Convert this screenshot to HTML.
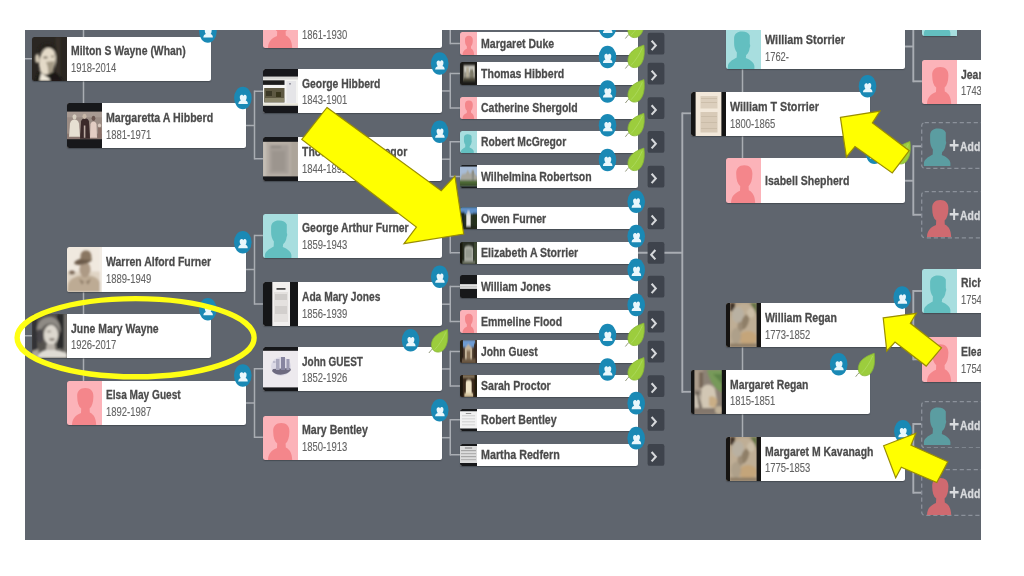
<!DOCTYPE html>
<html lang="en">
<head>
<meta charset="utf-8">
<title>Family tree</title>
<style>
html,body{margin:0;padding:0;background:#fff;}
body{width:1024px;height:576px;overflow:hidden;position:relative;font-family:"Liberation Sans",sans-serif;}
#tree{position:absolute;left:25px;top:30px;width:956px;height:510px;background:#5f656e;overflow:hidden;}
#inner{position:absolute;left:-25px;top:-30px;width:1024px;height:576px;}
.card{position:absolute;background:linear-gradient(90deg,rgba(255,255,255,0) 8px,#fff 8px);border-radius:2.5px;box-shadow:0 1px 1px rgba(40,44,52,.45);}
.pw{position:absolute;left:0;top:0;overflow:hidden;border-radius:2.5px 0 0 2.5px;}
.ph{position:absolute;left:0;top:0;display:block;}
.t{position:absolute;white-space:nowrap;line-height:16px;transform-origin:0 50%;-webkit-text-stroke:0.12px currentColor;}
.t.b{-webkit-text-stroke:0.3px currentColor;}
.add{position:absolute;box-sizing:border-box;border-radius:3px;}
.plus{position:absolute;color:#d9dbde;font-weight:bold;font-size:22px;line-height:26px;transform:scaleX(.8);transform-origin:0 50%;}
#stage{position:absolute;left:0;top:0;width:1024px;height:576px;overflow:hidden;background:#fff;filter:blur(0.5px);}
svg.ov{position:absolute;left:0;top:0;width:1024px;height:576px;overflow:visible;}
#lines path{stroke:#a9adb3;fill:none;}
</style>
</head>
<body>
<div id="stage">
<svg width="0" height="0" style="position:absolute"><defs><filter id="b045" x="-20%" y="-20%" width="140%" height="140%"><feGaussianBlur stdDeviation="0.45"/></filter><filter id="b06" x="-20%" y="-20%" width="140%" height="140%"><feGaussianBlur stdDeviation="0.6"/></filter><filter id="b07" x="-20%" y="-20%" width="140%" height="140%"><feGaussianBlur stdDeviation="0.7"/></filter><filter id="b08" x="-20%" y="-20%" width="140%" height="140%"><feGaussianBlur stdDeviation="0.8"/></filter><filter id="b09" x="-20%" y="-20%" width="140%" height="140%"><feGaussianBlur stdDeviation="0.9"/></filter><filter id="b10" x="-20%" y="-20%" width="140%" height="140%"><feGaussianBlur stdDeviation="1.0"/></filter><filter id="b11" x="-20%" y="-20%" width="140%" height="140%"><feGaussianBlur stdDeviation="1.1"/></filter><filter id="b16" x="-20%" y="-20%" width="140%" height="140%"><feGaussianBlur stdDeviation="1.6"/></filter></defs></svg>
<div id="tree"><div id="inner">
<svg class="ov" id="lines" viewBox="0 0 1024 576"><path d="M83.5,30 V103.5" stroke-width="1.5"/><path d="M83.5,291 V381" stroke-width="1.5"/><path d="M25,58.75 H32" stroke-width="1.5"/><path d="M25,335.75 H32" stroke-width="1.5"/><path d="M245,125.5 H254.5" stroke-width="1.5"/><path d="M254.5,90.5 V159.5" stroke-width="1.5"/><path d="M254.5,91.25 H263.5" stroke-width="1.5"/><path d="M254.5,158.75 H263.5" stroke-width="1.5"/><path d="M245,269.5 H254.5" stroke-width="1.5"/><path d="M254.5,234.75 V304.75" stroke-width="1.5"/><path d="M254.5,235.5 H263.5" stroke-width="1.5"/><path d="M254.5,304 H263.5" stroke-width="1.5"/><path d="M245,403 H254.5" stroke-width="1.5"/><path d="M254.5,368.0 V438.0" stroke-width="1.5"/><path d="M254.5,368.75 H263.5" stroke-width="1.5"/><path d="M254.5,437.25 H263.5" stroke-width="1.5"/><path d="M442,25.9 H450.25" stroke-width="1.5"/><path d="M450.25,25.25 V44.25" stroke-width="1.5"/><path d="M450.25,26 H460" stroke-width="1.5"/><path d="M450.25,43.5 H460" stroke-width="1.5"/><path d="M442,90.95 H450.25" stroke-width="1.5"/><path d="M450.25,72.75 V108.75" stroke-width="1.5"/><path d="M450.25,73.5 H460" stroke-width="1.5"/><path d="M450.25,108 H460" stroke-width="1.5"/><path d="M442,159.2 H450.25" stroke-width="1.5"/><path d="M450.25,141.0 V177.25" stroke-width="1.5"/><path d="M450.25,141.75 H460" stroke-width="1.5"/><path d="M450.25,176.5 H460" stroke-width="1.5"/><path d="M442,235.7 H450.25" stroke-width="1.5"/><path d="M450.25,217.5 V253.5" stroke-width="1.5"/><path d="M450.25,218.25 H460" stroke-width="1.5"/><path d="M450.25,252.75 H460" stroke-width="1.5"/><path d="M442,304.2 H450.25" stroke-width="1.5"/><path d="M450.25,285.75 V322.25" stroke-width="1.5"/><path d="M450.25,286.5 H460" stroke-width="1.5"/><path d="M450.25,321.5 H460" stroke-width="1.5"/><path d="M442,368.95 H450.25" stroke-width="1.5"/><path d="M450.25,350.75 V386.75" stroke-width="1.5"/><path d="M450.25,351.5 H460" stroke-width="1.5"/><path d="M450.25,386 H460" stroke-width="1.5"/><path d="M442,437.7 H450.25" stroke-width="1.5"/><path d="M450.25,419.0 V455.5" stroke-width="1.5"/><path d="M450.25,419.75 H460" stroke-width="1.5"/><path d="M450.25,454.75 H460" stroke-width="1.5"/><path d="M638,252.75 H683" stroke-width="1.8"/><path d="M682.3,112.4 V392.7" stroke-width="1.9"/><path d="M682.3,113.3 H692" stroke-width="1.8"/><path d="M682.3,391.8 H692" stroke-width="1.8"/><path d="M742.5,69 V92.5" stroke-width="1.5"/><path d="M742.5,136 V159" stroke-width="1.5"/><path d="M742.5,347 V370.5" stroke-width="1.5"/><path d="M742.5,414 V437.5" stroke-width="1.5"/><path d="M905,46.5 H913.3" stroke-width="1.9"/><path d="M913.3,11.05 V82.25" stroke-width="1.9"/><path d="M913.3,12 H922.5" stroke-width="1.9"/><path d="M913.3,81.3 H922.5" stroke-width="1.9"/><path d="M905,180.75 H913.3" stroke-width="1.9"/><path d="M913.3,145.3 V215.7" stroke-width="1.9"/><path d="M913.3,146.25 H921" stroke-width="1.9"/><path d="M913.3,214.75 H921" stroke-width="1.9"/><path d="M905,325 H913.3" stroke-width="1.9"/><path d="M913.3,290.05 V360.25" stroke-width="1.9"/><path d="M913.3,291 H922.5" stroke-width="1.9"/><path d="M913.3,359.3 H922.5" stroke-width="1.9"/><path d="M905,458.5 H913.3" stroke-width="1.9"/><path d="M913.3,423.05 V493.65" stroke-width="1.9"/><path d="M913.3,424 H921" stroke-width="1.9"/><path d="M913.3,492.7 H921" stroke-width="1.9"/></svg>
<div class="card" style="left:32px;top:37px;width:179px;height:44px;background:linear-gradient(90deg,rgba(255,255,255,0) 34px,#fff 34px)"><div class="pw" style="width:35px;height:44px"><svg class="ph" width="35" height="44" viewBox="0 0 35 44" preserveAspectRatio="none"><rect width="35" height="44" fill="#2a2622"/><g filter="url(#b08)"><rect x="24" y="0" width="4" height="44" fill="#37322c"/><path d="M3,44 L7,33 L24,35 L30,44 Z" fill="#1c1a18"/><ellipse cx="15.4" cy="24" rx="8.2" ry="14" fill="#e4dac8" transform="rotate(10 15.4 24)"/><ellipse cx="5.2" cy="21.5" rx="2.1" ry="4.6" fill="#d5cab6"/><path d="M6,13 C8,5 20,4 25,11 L24,16 C19,9 12,9 8,17 Z" fill="#25211d"/><path d="M14,25 C16,29 16.5,33 16,37 L21,35 C21.5,31 22.5,28 22.5,24 Z" fill="#a39985"/><ellipse cx="13.5" cy="20.5" rx="2.4" ry="1.1" fill="#6a6254"/><ellipse cx="20.5" cy="19.5" rx="1.6" ry="0.9" fill="#8a806e"/><path d="M7.5,44 L9,36 L17.5,41.5 L18,44 Z" fill="#f0e9da"/><path d="M18.5,44 L19.5,40 L25,36 L31,44 Z" fill="#1a1816"/></g></svg></div><span class="t  b" style="left:38.90px;top:6.47px;font-size:13.5px;font-weight:bold;color:#4b4b4b;transform:scaleX(0.7708)">Milton S Wayne (Whan)</span><span class="t " style="left:38.90px;top:23.24px;font-size:12.0px;font-weight:normal;color:#646464;transform:scaleX(0.7876)">1918-2014</span></div>
<div class="card" style="left:32px;top:314px;width:179px;height:44px;background:linear-gradient(90deg,rgba(255,255,255,0) 34px,#fff 34px)"><div class="pw" style="width:35px;height:44px"><svg class="ph" width="35" height="44" viewBox="0 0 35 44" preserveAspectRatio="none"><rect width="35" height="44" fill="#55524e"/><g filter="url(#b08)"><rect x="0" y="0" width="5" height="44" fill="#333235"/><rect x="25" y="0" width="7" height="34" fill="#2c2b2a"/><rect x="32" y="0" width="3" height="44" fill="#76736e"/><ellipse cx="16.5" cy="15.5" rx="12" ry="13" fill="#5c5955"/><path d="M5,15 C6,5 14,2 20,3 C26,4.5 29,11 28.5,19 L25.5,13 C21,7.5 11,8 8,19 Z" fill="#8f8b85"/><ellipse cx="8" cy="22" rx="3.2" ry="7" fill="#46444a"/><ellipse cx="19" cy="21" rx="7.2" ry="10.2" fill="#dcd7ce"/><ellipse cx="20" cy="25.5" rx="3" ry="1.4" fill="#8d857d"/><ellipse cx="17" cy="17.5" rx="2.4" ry="0.9" fill="#9b958c"/><path d="M14.5,30 L23,30 L24,37 L13.5,37 Z" fill="#b7b1a8"/><path d="M4,44 C6,39 10,36.5 14,36 L24,36 C29,36.5 33,38 35,40 L35,44 Z" fill="#dfdcd4"/><path d="M0,44 L0,37 L7,35 L6,44 Z" fill="#a8a39b"/></g></svg></div><span class="t  b" style="left:38.90px;top:6.72px;font-size:13.5px;font-weight:bold;color:#4b4b4b;transform:scaleX(0.7719)">June Mary Wayne</span><span class="t " style="left:38.90px;top:23.49px;font-size:12.0px;font-weight:normal;color:#646464;transform:scaleX(0.7876)">1926-2017</span></div>
<div class="card" style="left:67px;top:103px;width:179px;height:45px;background:linear-gradient(90deg,rgba(255,255,255,0) 34px,#fff 34px)"><div class="pw" style="width:35px;height:45px"><svg class="ph" width="35" height="45" viewBox="0 0 35 44" preserveAspectRatio="none"><rect width="35" height="44" fill="#9b8c84"/><g filter="url(#b06)"><rect x="0" y="8" width="35" height="6" fill="#a89a92"/><rect x="0" y="30" width="35" height="6" fill="#8a7770"/><path d="M2,33 L3,20 C4,15 11,15 12,20 L13,33 Z" fill="#e6e0d2"/><ellipse cx="7.5" cy="13.5" rx="2" ry="2.6" fill="#d8cfc0"/><path d="M13,35 L14,18 C15,14 21,14 22,18 L23,35 Z" fill="#3a2a2c"/><ellipse cx="17.5" cy="13" rx="2" ry="2.6" fill="#c8b8a8"/><rect x="16.8" y="22" width="1.6" height="12" fill="#b9a9a0"/><path d="M23,34 L23.5,21 C24,17 29,17 29.5,21 L30,34 Z" fill="#e3cdc3"/><ellipse cx="26.5" cy="15" rx="1.9" ry="2.5" fill="#6a5550"/><ellipse cx="32.5" cy="22" rx="1.6" ry="2" fill="#d9c9bf"/><rect x="31" y="24" width="3.5" height="10" fill="#8a7068"/></g><rect x="0" y="0" width="35" height="8.4" fill="#17181b"/><rect x="0" y="35.4" width="35" height="8.6" fill="#17181b"/></svg></div><span class="t  b" style="left:38.65px;top:7.22px;font-size:13.5px;font-weight:bold;color:#4b4b4b;transform:scaleX(0.7862)">Margaretta A Hibberd</span><span class="t " style="left:38.65px;top:23.99px;font-size:12.0px;font-weight:normal;color:#646464;transform:scaleX(0.7876)">1881-1971</span></div>
<div class="card" style="left:67px;top:247px;width:179px;height:45px;background:linear-gradient(90deg,rgba(255,255,255,0) 34px,#fff 34px)"><div class="pw" style="width:35px;height:45px"><svg class="ph" width="35" height="45" viewBox="0 0 35 44" preserveAspectRatio="none"><rect width="35" height="44" fill="#f0e9df"/><g filter="url(#b08)"><rect x="0" y="24" width="35" height="20" fill="#e0d4c4"/><path d="M0,44 L1,36 C3,31 8,29 12,28 L24,28 C29,29 33,32 34,38 L35,44 Z" fill="#bdab94"/><ellipse cx="18" cy="22" rx="5.6" ry="7.5" fill="#ad9a85"/><path d="M12,31 L17,34 L15,37 Z M24,31 L19,34 L21,37 Z" fill="#8d7a66"/><ellipse cx="16" cy="14" rx="9" ry="3" fill="#6d5c4c" transform="rotate(-12 16 14)"/><path d="M13.5,12 C13,6 15,3.5 19,3.5 C23,3.5 24.5,6 24.5,11 L24,13 Z" fill="#8a7762"/><ellipse cx="5" cy="25" rx="3" ry="2" fill="#7a6856"/><rect x="33" y="0" width="2" height="44" fill="#f4efe8"/></g></svg></div><span class="t  b" style="left:38.65px;top:7.22px;font-size:13.5px;font-weight:bold;color:#4b4b4b;transform:scaleX(0.7759)">Warren Alford Furner</span><span class="t " style="left:38.65px;top:23.99px;font-size:12.0px;font-weight:normal;color:#646464;transform:scaleX(0.7876)">1889-1949</span></div>
<div class="card" style="left:67px;top:381px;width:179px;height:44px;background:linear-gradient(90deg,rgba(255,255,255,0) 34px,#fff 34px)"><div class="pw" style="width:35px;height:44px"><svg class="ph" width="35" height="44" viewBox="0 0 35 44" preserveAspectRatio="none"><rect width="35" height="44" fill="#fcb3b9"/><path d="M5,44 C5.2,38 8,34.5 14,32 L14.2,27.5 C11.5,25.5 10.3,21.5 10.2,15.5 C10,10 13,7 18.3,7 C23.5,7 26.5,10 26.4,15.5 C26.3,21.5 25,25.5 22.6,27.5 L22.8,31.5 C27,33.5 29,37.5 29.2,44 Z" fill="#f4868b"/></svg></div><span class="t  b" style="left:38.65px;top:6.47px;font-size:13.5px;font-weight:bold;color:#4b4b4b;transform:scaleX(0.748)">Elsa May Guest</span><span class="t " style="left:38.65px;top:23.24px;font-size:12.0px;font-weight:normal;color:#646464;transform:scaleX(0.7876)">1892-1987</span></div>
<div class="card" style="left:263px;top:4px;width:179px;height:44px;background:linear-gradient(90deg,rgba(255,255,255,0) 34px,#fff 34px)"><div class="pw" style="width:35px;height:44px"><svg class="ph" width="35" height="44" viewBox="0 0 35 44" preserveAspectRatio="none"><rect width="35" height="44" fill="#fcb3b9"/><path d="M5,44 C5.2,38 8,34.5 14,32 L14.2,27.5 C11.5,25.5 10.3,21.5 10.2,15.5 C10,10 13,7 18.3,7 C23.5,7 26.5,10 26.4,15.5 C26.3,21.5 25,25.5 22.6,27.5 L22.8,31.5 C27,33.5 29,37.5 29.2,44 Z" fill="#f4868b"/></svg></div><span class="t  b" style="left:38.90px;top:6.67px;font-size:13.5px;font-weight:bold;color:#4b4b4b;transform:scaleX(0.772)">&nbsp;</span><span class="t " style="left:38.90px;top:23.44px;font-size:12.0px;font-weight:normal;color:#646464;transform:scaleX(0.7876)">1861-1930</span></div>
<div class="card" style="left:263px;top:69px;width:179px;height:44px;background:linear-gradient(90deg,rgba(255,255,255,0) 34px,#fff 34px)"><div class="pw" style="width:35px;height:44px"><svg class="ph" width="35" height="44" viewBox="0 0 35 44" preserveAspectRatio="none"><rect width="35" height="44" fill="#f4f4f2"/><g filter="url(#b045)"><rect x="0" y="8" width="35" height="2.5" fill="#d8d8d6"/><rect x="0" y="11.3" width="21.5" height="4.6" fill="#1d1d1f"/><rect x="1.2" y="19" width="20.3" height="14.5" fill="#5d5942"/><rect x="3" y="22" width="6" height="5" fill="#3b3828"/><rect x="13" y="23" width="5" height="5" fill="#37341f"/><rect x="2" y="29" width="19" height="4" fill="#8a866c"/><rect x="23.5" y="12" width="9.5" height="22" fill="#e5e5e8"/><rect x="26" y="14" width="2" height="1.6" fill="#9a9aa5"/><rect x="0" y="34.5" width="35" height="2" fill="#e8e6d8"/></g><rect x="0" y="0" width="35" height="7.6" fill="#16171b"/><rect x="0" y="36.8" width="35" height="7.2" fill="#16171b"/></svg></div><span class="t  b" style="left:38.90px;top:6.72px;font-size:13.5px;font-weight:bold;color:#4b4b4b;transform:scaleX(0.7685)">George Hibberd</span><span class="t " style="left:38.90px;top:23.49px;font-size:12.0px;font-weight:normal;color:#646464;transform:scaleX(0.7876)">1843-1901</span></div>
<div class="card" style="left:263px;top:137px;width:179px;height:44px;background:linear-gradient(90deg,rgba(255,255,255,0) 34px,#fff 34px)"><div class="pw" style="width:35px;height:44px"><svg class="ph" width="35" height="44" viewBox="0 0 35 44" preserveAspectRatio="none"><rect width="35" height="44" fill="#b6aea5"/><g filter="url(#b09)"><rect x="0" y="4" width="3" height="37" fill="#c6c0b8"/><rect x="6.5" y="8" width="19" height="28.5" fill="#a59e97"/><rect x="8" y="9" width="10" height="2" fill="#8f8983"/><rect x="9" y="14" width="13" height="20" fill="#9c958e"/><rect x="28" y="4" width="7" height="37" fill="#aca49a"/></g><rect x="0" y="0" width="35" height="4.8" fill="#16171a"/><rect x="0" y="39.4" width="35" height="4.6" fill="#16171a"/></svg></div><span class="t  b" style="left:38.90px;top:6.97px;font-size:13.5px;font-weight:bold;color:#4b4b4b;transform:scaleX(0.7749)">Thomas W McGregor</span><span class="t " style="left:38.90px;top:23.74px;font-size:12.0px;font-weight:normal;color:#646464;transform:scaleX(0.7876)">1844-1892</span></div>
<div class="card" style="left:263px;top:214px;width:179px;height:44px;background:linear-gradient(90deg,rgba(255,255,255,0) 34px,#fff 34px)"><div class="pw" style="width:35px;height:44px"><svg class="ph" width="35" height="44" viewBox="0 0 35 44" preserveAspectRatio="none"><rect width="35" height="44" fill="#a8dedf"/><path d="M1.9,44 L1.9,41 C2.2,37.5 6,35 10.7,32.5 L10.9,27.5 C9,25 8.1,22 8.1,18 L8.1,13 C8.3,8.8 11.5,6.6 15.5,6.6 C19.5,6.4 22.5,7.8 23.8,10.4 L23.8,19 C24.5,20 24.3,22 23.6,23 C23.3,26 22.3,28.5 20.2,30 L19.8,33 C24.5,35 28,37.5 28.4,41 L28.4,44 Z" fill="#63bfc0"/></svg></div><span class="t  b" style="left:38.90px;top:6.47px;font-size:13.5px;font-weight:bold;color:#4b4b4b;transform:scaleX(0.7713)">George Arthur Furner</span><span class="t " style="left:38.90px;top:23.24px;font-size:12.0px;font-weight:normal;color:#646464;transform:scaleX(0.7876)">1859-1943</span></div>
<div class="card" style="left:263px;top:282px;width:179px;height:44px;background:linear-gradient(90deg,rgba(255,255,255,0) 34px,#fff 34px)"><div class="pw" style="width:35px;height:44px"><svg class="ph" width="35" height="44" viewBox="0 0 35 44" preserveAspectRatio="none"><rect width="35" height="44" fill="#f2f0ef"/><g filter="url(#b06)"><rect x="13.5" y="6" width="9" height="1.8" fill="#4a4a4a"/><rect x="11" y="10" width="14" height="30" fill="#e4e1df"/><rect x="12" y="12" width="12" height="6" fill="#cfccca"/><rect x="12" y="24" width="12" height="8" fill="#d2cfcd"/></g><rect x="0" y="0" width="9.3" height="44" fill="#151618"/><rect x="27" y="0" width="8" height="44" fill="#151618"/></svg></div><span class="t  b" style="left:38.90px;top:6.97px;font-size:13.5px;font-weight:bold;color:#4b4b4b;transform:scaleX(0.7571)">Ada Mary Jones</span><span class="t " style="left:38.90px;top:23.74px;font-size:12.0px;font-weight:normal;color:#646464;transform:scaleX(0.7876)">1856-1939</span></div>
<div class="card" style="left:263px;top:347px;width:179px;height:44px;background:linear-gradient(90deg,rgba(255,255,255,0) 34px,#fff 34px)"><div class="pw" style="width:35px;height:44px"><svg class="ph" width="35" height="44" viewBox="0 0 35 44" preserveAspectRatio="none"><rect width="35" height="44" fill="#edeaee"/><g filter="url(#b07)"><ellipse cx="18" cy="19.5" rx="10" ry="9.5" fill="#dcdae6"/><path d="M9,24 C12,29 24,29 28,23 L27,21 L10,22 Z" fill="#6d6b7f"/><rect x="13" y="12" width="3.5" height="11" fill="#a9a8bd"/><rect x="18" y="10" width="4" height="13" fill="#8785a0"/><rect x="23.5" y="12" width="3" height="11" fill="#9c9ab2"/><rect x="10" y="14" width="2.5" height="2" fill="#bdbccd"/><rect x="5" y="2.5" width="3" height="0.6" fill="#e9b9c0"/></g><rect x="0" y="0" width="35" height="3.8" fill="#16171a"/><rect x="0" y="40.4" width="35" height="3.6" fill="#16171a"/></svg></div><span class="t  b" style="left:38.90px;top:6.72px;font-size:13.5px;font-weight:bold;color:#4b4b4b;transform:scaleX(0.738)">John GUEST</span><span class="t " style="left:38.90px;top:23.49px;font-size:12.0px;font-weight:normal;color:#646464;transform:scaleX(0.7876)">1852-1926</span></div>
<div class="card" style="left:263px;top:416px;width:179px;height:44px;background:linear-gradient(90deg,rgba(255,255,255,0) 34px,#fff 34px)"><div class="pw" style="width:35px;height:44px"><svg class="ph" width="35" height="44" viewBox="0 0 35 44" preserveAspectRatio="none"><rect width="35" height="44" fill="#fcb3b9"/><path d="M5,44 C5.2,38 8,34.5 14,32 L14.2,27.5 C11.5,25.5 10.3,21.5 10.2,15.5 C10,10 13,7 18.3,7 C23.5,7 26.5,10 26.4,15.5 C26.3,21.5 25,25.5 22.6,27.5 L22.8,31.5 C27,33.5 29,37.5 29.2,44 Z" fill="#f4868b"/></svg></div><span class="t  b" style="left:38.90px;top:6.47px;font-size:13.5px;font-weight:bold;color:#4b4b4b;transform:scaleX(0.7841)">Mary Bentley</span><span class="t " style="left:38.90px;top:23.24px;font-size:12.0px;font-weight:normal;color:#646464;transform:scaleX(0.7876)">1850-1913</span></div>
<div class="card" style="left:460px;top:32px;width:178px;height:23px;background:linear-gradient(90deg,rgba(255,255,255,0) 16px,#fff 16px)"><div class="pw" style="width:17px;height:23px"><svg class="ph" width="17" height="23" viewBox="0 0 35 44" preserveAspectRatio="none"><rect width="35" height="44" fill="#fcb3b9"/><path d="M5,44 C5.2,38 8,34.5 14,32 L14.2,27.5 C11.5,25.5 10.3,21.5 10.2,15.5 C10,10 13,7 18.3,7 C23.5,7 26.5,10 26.4,15.5 C26.3,21.5 25,25.5 22.6,27.5 L22.8,31.5 C27,33.5 29,37.5 29.2,44 Z" fill="#f4868b"/></svg></div><span class="t  b" style="left:21.35px;top:3.92px;font-size:13.5px;font-weight:bold;color:#4b4b4b;transform:scaleX(0.7804)">Margaret Duke</span></div>
<div class="card" style="left:460px;top:62px;width:178px;height:23px;background:linear-gradient(90deg,rgba(255,255,255,0) 16px,#fff 16px)"><div class="pw" style="width:17px;height:23px"><svg class="ph" width="17" height="23" viewBox="0 0 35 44" preserveAspectRatio="none"><rect width="35" height="44" fill="#1b1a17"/><g filter="url(#b16)"><rect x="7" y="6" width="24" height="30" fill="#9a978a"/><rect x="9" y="7" width="20" height="12" fill="#c9c8c0"/><rect x="13" y="10" width="5" height="22" fill="#b5ae98"/><rect x="21" y="14" width="6" height="18" fill="#7d7a68"/><rect x="7" y="30" width="24" height="7" fill="#4d4a3a"/></g></svg></div><span class="t  b" style="left:21.35px;top:3.92px;font-size:13.5px;font-weight:bold;color:#4b4b4b;transform:scaleX(0.7811)">Thomas Hibberd</span></div>
<div class="card" style="left:460px;top:97px;width:178px;height:22px;background:linear-gradient(90deg,rgba(255,255,255,0) 16px,#fff 16px)"><div class="pw" style="width:17px;height:22px"><svg class="ph" width="17" height="22" viewBox="0 0 35 44" preserveAspectRatio="none"><rect width="35" height="44" fill="#fcb3b9"/><path d="M5,44 C5.2,38 8,34.5 14,32 L14.2,27.5 C11.5,25.5 10.3,21.5 10.2,15.5 C10,10 13,7 18.3,7 C23.5,7 26.5,10 26.4,15.5 C26.3,21.5 25,25.5 22.6,27.5 L22.8,31.5 C27,33.5 29,37.5 29.2,44 Z" fill="#f4868b"/></svg></div><span class="t  b" style="left:21.35px;top:3.42px;font-size:13.5px;font-weight:bold;color:#4b4b4b;transform:scaleX(0.7765)">Catherine Shergold</span></div>
<div class="card" style="left:460px;top:131px;width:178px;height:22px;background:linear-gradient(90deg,rgba(255,255,255,0) 16px,#fff 16px)"><div class="pw" style="width:17px;height:22px"><svg class="ph" width="17" height="22" viewBox="0 0 35 44" preserveAspectRatio="none"><rect width="35" height="44" fill="#a8dedf"/><path d="M1.9,44 L1.9,41 C2.2,37.5 6,35 10.7,32.5 L10.9,27.5 C9,25 8.1,22 8.1,18 L8.1,13 C8.3,8.8 11.5,6.6 15.5,6.6 C19.5,6.4 22.5,7.8 23.8,10.4 L23.8,19 C24.5,20 24.3,22 23.6,23 C23.3,26 22.3,28.5 20.2,30 L19.8,33 C24.5,35 28,37.5 28.4,41 L28.4,44 Z" fill="#63bfc0"/></svg></div><span class="t  b" style="left:21.35px;top:3.17px;font-size:13.5px;font-weight:bold;color:#4b4b4b;transform:scaleX(0.7675)">Robert McGregor</span></div>
<div class="card" style="left:460px;top:165px;width:178px;height:23px;background:linear-gradient(90deg,rgba(255,255,255,0) 16px,#fff 16px)"><div class="pw" style="width:17px;height:23px"><svg class="ph" width="17" height="23" viewBox="0 0 35 44" preserveAspectRatio="none"><rect width="35" height="44" fill="#9fb6d2"/><g filter="url(#b16)"><rect x="0" y="4" width="35" height="14" fill="#a8bcd6"/><path d="M0,30 L4,18 L12,16 L16,10 L20,16 L28,14 L35,22 L35,32 Z" fill="#a6a59c"/><rect x="24" y="10" width="5" height="18" fill="#8d8f88"/><rect x="0" y="29" width="35" height="12" fill="#4e6a36"/><rect x="0" y="36" width="35" height="6" fill="#3b4f2a"/></g><rect x="0" y="0" width="35" height="3" fill="#1a1c1e"/><rect x="0" y="41" width="35" height="3" fill="#1a1c1e"/></svg></div><span class="t  b" style="left:21.35px;top:3.92px;font-size:13.5px;font-weight:bold;color:#4b4b4b;transform:scaleX(0.7774)">Wilhelmina Robertson</span></div>
<div class="card" style="left:460px;top:207px;width:178px;height:22px;background:linear-gradient(90deg,rgba(255,255,255,0) 16px,#fff 16px)"><div class="pw" style="width:17px;height:22px"><svg class="ph" width="17" height="22" viewBox="0 0 35 44" preserveAspectRatio="none"><rect width="35" height="44" fill="#2a3322"/><g filter="url(#b16)"><rect x="0" y="0" width="35" height="14" fill="#5f90c8"/><rect x="0" y="10" width="9" height="30" fill="#1f261a"/><rect x="27" y="12" width="8" height="28" fill="#27301f"/><rect x="13" y="14" width="9" height="26" fill="#e6e6e4"/><rect x="15" y="8" width="5" height="8" fill="#d0d4d8"/><rect x="0" y="38" width="35" height="6" fill="#20261c"/></g></svg></div><span class="t  b" style="left:21.35px;top:3.67px;font-size:13.5px;font-weight:bold;color:#4b4b4b;transform:scaleX(0.783)">Owen Furner</span></div>
<div class="card" style="left:460px;top:242px;width:178px;height:22px;background:linear-gradient(90deg,rgba(255,255,255,0) 16px,#fff 16px)"><div class="pw" style="width:17px;height:22px"><svg class="ph" width="17" height="22" viewBox="0 0 35 44" preserveAspectRatio="none"><rect width="35" height="44" fill="#2a2f25"/><g filter="url(#b16)"><rect x="0" y="0" width="5" height="44" fill="#15170f"/><path d="M9,44 L9,12 C10,5 25,5 27,12 L27,44 Z" fill="#a9aca3"/><rect x="12" y="14" width="12" height="18" fill="#959a90"/><rect x="29" y="0" width="6" height="44" fill="#3f4a35"/><rect x="5" y="38" width="26" height="6" fill="#6d7263"/></g></svg></div><span class="t  b" style="left:21.35px;top:3.17px;font-size:13.5px;font-weight:bold;color:#4b4b4b;transform:scaleX(0.7821)">Elizabeth A Storrier</span></div>
<div class="card" style="left:460px;top:275px;width:178px;height:23px;background:linear-gradient(90deg,rgba(255,255,255,0) 16px,#fff 16px)"><div class="pw" style="width:17px;height:23px"><svg class="ph" width="17" height="23" viewBox="0 0 35 44" preserveAspectRatio="none"><rect width="35" height="44" fill="#17181a"/><g filter="url(#b09)"><rect x="0" y="17.5" width="35" height="9" fill="#e4e4e4"/><rect x="0" y="21" width="35" height="3" fill="#c9c9c9"/></g></svg></div><span class="t  b" style="left:21.35px;top:3.92px;font-size:13.5px;font-weight:bold;color:#4b4b4b;transform:scaleX(0.7753)">William Jones</span></div>
<div class="card" style="left:460px;top:310px;width:178px;height:23px;background:linear-gradient(90deg,rgba(255,255,255,0) 16px,#fff 16px)"><div class="pw" style="width:17px;height:23px"><svg class="ph" width="17" height="23" viewBox="0 0 35 44" preserveAspectRatio="none"><rect width="35" height="44" fill="#fcb3b9"/><path d="M5,44 C5.2,38 8,34.5 14,32 L14.2,27.5 C11.5,25.5 10.3,21.5 10.2,15.5 C10,10 13,7 18.3,7 C23.5,7 26.5,10 26.4,15.5 C26.3,21.5 25,25.5 22.6,27.5 L22.8,31.5 C27,33.5 29,37.5 29.2,44 Z" fill="#f4868b"/></svg></div><span class="t  b" style="left:21.35px;top:3.92px;font-size:13.5px;font-weight:bold;color:#4b4b4b;transform:scaleX(0.7788)">Emmeline Flood</span></div>
<div class="card" style="left:460px;top:340px;width:178px;height:23px;background:linear-gradient(90deg,rgba(255,255,255,0) 16px,#fff 16px)"><div class="pw" style="width:17px;height:23px"><svg class="ph" width="17" height="23" viewBox="0 0 35 44" preserveAspectRatio="none"><rect width="35" height="44" fill="#4a3a2c"/><g filter="url(#b16)"><rect x="5" y="0" width="26" height="14" fill="#6e9bd2"/><rect x="0" y="0" width="6" height="44" fill="#2a2018"/><rect x="29" y="6" width="6" height="38" fill="#3a2c20"/><path d="M10,40 L10,16 L17,8 L25,16 L25,40 Z" fill="#c4b49a"/><rect x="14" y="20" width="7" height="16" fill="#8a7358"/><rect x="4" y="36" width="28" height="8" fill="#6d5a45"/></g></svg></div><span class="t  b" style="left:21.35px;top:3.92px;font-size:13.5px;font-weight:bold;color:#4b4b4b;transform:scaleX(0.7635)">John Guest</span></div>
<div class="card" style="left:460px;top:375px;width:178px;height:22px;background:linear-gradient(90deg,rgba(255,255,255,0) 16px,#fff 16px)"><div class="pw" style="width:17px;height:22px"><svg class="ph" width="17" height="22" viewBox="0 0 35 44" preserveAspectRatio="none"><rect width="35" height="44" fill="#3a2a1c"/><g filter="url(#b16)"><rect x="0" y="0" width="35" height="6" fill="#8a7a60"/><rect x="0" y="0" width="6" height="44" fill="#1f160e"/><rect x="30" y="0" width="5" height="44" fill="#241a10"/><path d="M12,44 L12,14 C13,8 23,8 24,14 L24,44 Z" fill="#efe4c6"/><rect x="9" y="36" width="18" height="8" fill="#d6c6a0"/></g></svg></div><span class="t  b" style="left:21.35px;top:3.42px;font-size:13.5px;font-weight:bold;color:#4b4b4b;transform:scaleX(0.7807)">Sarah Proctor</span></div>
<div class="card" style="left:460px;top:409px;width:178px;height:22px;background:linear-gradient(90deg,rgba(255,255,255,0) 16px,#fff 16px)"><div class="pw" style="width:17px;height:22px"><svg class="ph" width="17" height="22" viewBox="0 0 35 44" preserveAspectRatio="none"><rect width="35" height="44" fill="#f1f1f1"/><g filter="url(#b09)"><rect x="12" y="8" width="11" height="1.8" fill="#8a8a8a"/><rect x="4" y="13" width="27" height="1.5" fill="#c2c2c2"/><rect x="4" y="19" width="27" height="1.5" fill="#cacaca"/><rect x="4" y="25" width="27" height="1.5" fill="#c2c2c2"/><rect x="4" y="31" width="27" height="1.5" fill="#cacaca"/></g><rect x="0" y="0" width="35" height="4.5" fill="#17181a"/><rect x="0" y="39" width="35" height="5" fill="#17181a"/></svg></div><span class="t  b" style="left:21.35px;top:3.17px;font-size:13.5px;font-weight:bold;color:#4b4b4b;transform:scaleX(0.7883)">Robert Bentley</span></div>
<div class="card" style="left:460px;top:444px;width:178px;height:22px;background:linear-gradient(90deg,rgba(255,255,255,0) 16px,#fff 16px)"><div class="pw" style="width:17px;height:22px"><svg class="ph" width="17" height="22" viewBox="0 0 35 44" preserveAspectRatio="none"><rect width="35" height="44" fill="#dcdcdc"/><g filter="url(#b09)"><rect x="10" y="7" width="15" height="2" fill="#7a7a7a"/><rect x="2" y="12" width="31" height="2.4" fill="#a6a6a6"/><rect x="2" y="18" width="31" height="2.4" fill="#b0b0b0"/><rect x="2" y="24" width="31" height="2.4" fill="#a6a6a6"/><rect x="2" y="30" width="31" height="2.4" fill="#b4b4b4"/></g><rect x="0" y="0" width="35" height="4" fill="#17181a"/><rect x="0" y="38" width="35" height="6" fill="#17181a"/></svg></div><span class="t  b" style="left:21.35px;top:3.17px;font-size:13.5px;font-weight:bold;color:#4b4b4b;transform:scaleX(0.7948)">Martha Redfern</span></div>
<div class="card" style="left:691px;top:92px;width:179px;height:44px;background:linear-gradient(90deg,rgba(255,255,255,0) 34px,#fff 34px)"><div class="pw" style="width:35px;height:44px"><svg class="ph" width="35" height="44" viewBox="0 0 35 44" preserveAspectRatio="none"><rect width="35" height="44" fill="#f2e8da"/><g filter="url(#b06)"><rect x="9.5" y="4" width="17" height="12.5" fill="#dccfbd"/><rect x="9.5" y="20" width="17" height="20.5" fill="#d8cab7"/><rect x="10" y="6" width="16" height="1" fill="#cdbfab"/><rect x="10" y="10" width="16" height="1" fill="#cdbfab"/><rect x="10" y="24" width="16" height="1" fill="#cbbda9"/><rect x="10" y="30" width="16" height="1" fill="#cbbda9"/><rect x="10" y="36" width="16" height="1" fill="#cbbda9"/></g><rect x="0" y="0" width="4.6" height="44" fill="#141414"/><rect x="30.4" y="0" width="4.6" height="44" fill="#141414"/></svg></div><span class="t  b" style="left:39.15px;top:6.97px;font-size:13.5px;font-weight:bold;color:#4b4b4b;transform:scaleX(0.7962)">William T Storrier</span><span class="t " style="left:39.15px;top:23.74px;font-size:12.0px;font-weight:normal;color:#646464;transform:scaleX(0.7876)">1800-1865</span></div>
<div class="card" style="left:691px;top:370px;width:179px;height:44px;background:linear-gradient(90deg,rgba(255,255,255,0) 34px,#fff 34px)"><div class="pw" style="width:35px;height:44px"><svg class="ph" width="35" height="44" viewBox="0 0 35 44" preserveAspectRatio="none"><rect width="35" height="44" fill="#8d8276"/><g filter="url(#b10)"><path d="M16,0 L35,0 L35,22 C28,24 20,16 16,0 Z" fill="#779a5a"/><path d="M22,4 L31,4 L31,14 Z" fill="#5f8448"/><rect x="3" y="0" width="9" height="20" fill="#ab9c8b"/><rect x="8" y="2" width="4" height="16" fill="#776759"/><path d="M10.5,19 C13,13 21,13 24,19 L26,30 L23,40 L12,40 L9.5,30 Z" fill="#d2c7b4"/><path d="M18,27 C22,25 26.5,28 26.5,32 L24,38 L18,36 Z" fill="#c9ae86"/><rect x="3" y="25" width="6" height="17" fill="#c9c0b1"/><path d="M7,22 L10,38 L8.5,38 L5.5,22 Z" fill="#54493f"/><rect x="3" y="38" width="30" height="6" fill="#83776c"/><ellipse cx="28" cy="40" rx="4" ry="4" fill="#bfb198"/></g><rect x="0" y="0" width="3.4" height="44" fill="#141414"/><rect x="30.8" y="0" width="4.2" height="44" fill="#141414"/></svg></div><span class="t  b" style="left:39.15px;top:6.72px;font-size:13.5px;font-weight:bold;color:#4b4b4b;transform:scaleX(0.7684)">Margaret Regan</span><span class="t " style="left:39.15px;top:23.49px;font-size:12.0px;font-weight:normal;color:#646464;transform:scaleX(0.7876)">1815-1851</span></div>
<div class="card" style="left:726px;top:25px;width:179px;height:44px;background:linear-gradient(90deg,rgba(255,255,255,0) 34px,#fff 34px)"><div class="pw" style="width:35px;height:44px"><svg class="ph" width="35" height="44" viewBox="0 0 35 44" preserveAspectRatio="none"><rect width="35" height="44" fill="#a8dedf"/><path d="M1.9,44 L1.9,41 C2.2,37.5 6,35 10.7,32.5 L10.9,27.5 C9,25 8.1,22 8.1,18 L8.1,13 C8.3,8.8 11.5,6.6 15.5,6.6 C19.5,6.4 22.5,7.8 23.8,10.4 L23.8,19 C24.5,20 24.3,22 23.6,23 C23.3,26 22.3,28.5 20.2,30 L19.8,33 C24.5,35 28,37.5 28.4,41 L28.4,44 Z" fill="#63bfc0"/></svg></div><span class="t  b" style="left:38.65px;top:6.97px;font-size:13.5px;font-weight:bold;color:#4b4b4b;transform:scaleX(0.8018)">William Storrier</span><span class="t " style="left:38.65px;top:23.74px;font-size:12.0px;font-weight:normal;color:#646464;transform:scaleX(0.78)">1762-</span></div>
<div class="card" style="left:726px;top:158px;width:179px;height:45px;background:linear-gradient(90deg,rgba(255,255,255,0) 34px,#fff 34px)"><div class="pw" style="width:35px;height:45px"><svg class="ph" width="35" height="45" viewBox="0 0 35 44" preserveAspectRatio="none"><rect width="35" height="44" fill="#fcb3b9"/><path d="M5,44 C5.2,38 8,34.5 14,32 L14.2,27.5 C11.5,25.5 10.3,21.5 10.2,15.5 C10,10 13,7 18.3,7 C23.5,7 26.5,10 26.4,15.5 C26.3,21.5 25,25.5 22.6,27.5 L22.8,31.5 C27,33.5 29,37.5 29.2,44 Z" fill="#f4868b"/></svg></div><span class="t  b" style="left:38.65px;top:14.57px;font-size:13.5px;font-weight:bold;color:#4b4b4b;transform:scaleX(0.7811)">Isabell Shepherd</span></div>
<div class="card" style="left:726px;top:303px;width:179px;height:44px;background:linear-gradient(90deg,rgba(255,255,255,0) 34px,#fff 34px)"><div class="pw" style="width:35px;height:44px"><svg class="ph" width="35" height="44" viewBox="0 0 35 44" preserveAspectRatio="none"><rect width="35" height="44" fill="#b3a188"/><g filter="url(#b11)"><rect x="4" y="0" width="5" height="8" fill="#43352a"/><path d="M24,0 L31,0 L31,12 L28,6 Z" fill="#667446"/><path d="M6,10 C8,2 14,0.5 18,0.5 C23,0.5 27,3 29,10 L31,16 L31,44 L4,44 L4,16 Z" fill="#bfae95"/><ellipse cx="12" cy="12" rx="6" ry="8" fill="#b9b1a2"/><ellipse cx="19" cy="19" rx="3.5" ry="8" fill="#8f7f68" transform="rotate(20 19 19)"/><ellipse cx="14" cy="24" rx="2.5" ry="5" fill="#9c8c76"/><ellipse cx="25" cy="10" rx="4" ry="5" fill="#cbbda6"/><ellipse cx="22" cy="35" rx="9" ry="7" fill="#c4a57a"/><ellipse cx="10" cy="33" rx="5" ry="8" fill="#aea08a"/><rect x="4" y="40.5" width="27" height="3.5" fill="#8f7e66"/></g><rect x="0" y="0" width="4" height="44" fill="#161412"/><rect x="30.6" y="0" width="4.4" height="44" fill="#161412"/></svg></div><span class="t  b" style="left:38.65px;top:6.97px;font-size:13.5px;font-weight:bold;color:#4b4b4b;transform:scaleX(0.7802)">William Regan</span><span class="t " style="left:38.65px;top:23.74px;font-size:12.0px;font-weight:normal;color:#646464;transform:scaleX(0.7876)">1773-1852</span></div>
<div class="card" style="left:726px;top:437px;width:179px;height:44px;background:linear-gradient(90deg,rgba(255,255,255,0) 34px,#fff 34px)"><div class="pw" style="width:35px;height:44px"><svg class="ph" width="35" height="44" viewBox="0 0 35 44" preserveAspectRatio="none"><rect width="35" height="44" fill="#b3a188"/><g filter="url(#b11)"><rect x="4" y="0" width="5" height="8" fill="#43352a"/><path d="M24,0 L31,0 L31,12 L28,6 Z" fill="#667446"/><path d="M6,10 C8,2 14,0.5 18,0.5 C23,0.5 27,3 29,10 L31,16 L31,44 L4,44 L4,16 Z" fill="#bfae95"/><ellipse cx="12" cy="12" rx="6" ry="8" fill="#b9b1a2"/><ellipse cx="19" cy="19" rx="3.5" ry="8" fill="#8f7f68" transform="rotate(20 19 19)"/><ellipse cx="14" cy="24" rx="2.5" ry="5" fill="#9c8c76"/><ellipse cx="25" cy="10" rx="4" ry="5" fill="#cbbda6"/><ellipse cx="22" cy="35" rx="9" ry="7" fill="#c4a57a"/><ellipse cx="10" cy="33" rx="5" ry="8" fill="#aea08a"/><rect x="4" y="40.5" width="27" height="3.5" fill="#8f7e66"/></g><rect x="0" y="0" width="4" height="44" fill="#161412"/><rect x="30.6" y="0" width="4.4" height="44" fill="#161412"/></svg></div><span class="t  b" style="left:38.65px;top:6.72px;font-size:13.5px;font-weight:bold;color:#4b4b4b;transform:scaleX(0.7726)">Margaret M Kavanagh</span><span class="t " style="left:38.65px;top:23.49px;font-size:12.0px;font-weight:normal;color:#646464;transform:scaleX(0.7876)">1775-1853</span></div>
<div class="card" style="left:922px;top:-9px;width:35px;height:45px;background:linear-gradient(90deg,rgba(255,255,255,0) 34px,#fff 34px)"><div class="pw" style="width:35px;height:45px"><svg class="ph" width="35" height="45" viewBox="0 0 35 44" preserveAspectRatio="none"><rect width="35" height="44" fill="#a8dedf"/><path d="M1.9,44 L1.9,41 C2.2,37.5 6,35 10.7,32.5 L10.9,27.5 C9,25 8.1,22 8.1,18 L8.1,13 C8.3,8.8 11.5,6.6 15.5,6.6 C19.5,6.4 22.5,7.8 23.8,10.4 L23.8,19 C24.5,20 24.3,22 23.6,23 C23.3,26 22.3,28.5 20.2,30 L19.8,33 C24.5,35 28,37.5 28.4,41 L28.4,44 Z" fill="#63bfc0"/></svg></div><span class="t  b" style="left:39.15px;top:7.17px;font-size:13.5px;font-weight:bold;color:#4b4b4b;transform:scaleX(0.772)">&nbsp;</span><span class="t " style="left:39.15px;top:23.94px;font-size:12.0px;font-weight:normal;color:#646464;transform:scaleX(0.78)">&nbsp;</span></div>
<div class="card" style="left:922px;top:60px;width:100px;height:44px;background:linear-gradient(90deg,rgba(255,255,255,0) 34px,#fff 34px)"><div class="pw" style="width:35px;height:44px"><svg class="ph" width="35" height="44" viewBox="0 0 35 44" preserveAspectRatio="none"><rect width="35" height="44" fill="#fcb3b9"/><path d="M5,44 C5.2,38 8,34.5 14,32 L14.2,27.5 C11.5,25.5 10.3,21.5 10.2,15.5 C10,10 13,7 18.3,7 C23.5,7 26.5,10 26.4,15.5 C26.3,21.5 25,25.5 22.6,27.5 L22.8,31.5 C27,33.5 29,37.5 29.2,44 Z" fill="#f4868b"/></svg></div><span class="t  b" style="left:39.15px;top:6.67px;font-size:13.5px;font-weight:bold;color:#4b4b4b;transform:scaleX(0.772)">Jean</span><span class="t " style="left:39.15px;top:23.44px;font-size:12.0px;font-weight:normal;color:#646464;transform:scaleX(0.78)">1743</span></div>
<div class="card" style="left:922px;top:269px;width:100px;height:44px;background:linear-gradient(90deg,rgba(255,255,255,0) 34px,#fff 34px)"><div class="pw" style="width:35px;height:44px"><svg class="ph" width="35" height="44" viewBox="0 0 35 44" preserveAspectRatio="none"><rect width="35" height="44" fill="#a8dedf"/><path d="M1.9,44 L1.9,41 C2.2,37.5 6,35 10.7,32.5 L10.9,27.5 C9,25 8.1,22 8.1,18 L8.1,13 C8.3,8.8 11.5,6.6 15.5,6.6 C19.5,6.4 22.5,7.8 23.8,10.4 L23.8,19 C24.5,20 24.3,22 23.6,23 C23.3,26 22.3,28.5 20.2,30 L19.8,33 C24.5,35 28,37.5 28.4,41 L28.4,44 Z" fill="#63bfc0"/></svg></div><span class="t  b" style="left:39.15px;top:6.47px;font-size:13.5px;font-weight:bold;color:#4b4b4b;transform:scaleX(0.772)">Rich</span><span class="t " style="left:39.15px;top:23.24px;font-size:12.0px;font-weight:normal;color:#646464;transform:scaleX(0.78)">1754</span></div>
<div class="card" style="left:922px;top:337px;width:100px;height:45px;background:linear-gradient(90deg,rgba(255,255,255,0) 34px,#fff 34px)"><div class="pw" style="width:35px;height:45px"><svg class="ph" width="35" height="45" viewBox="0 0 35 44" preserveAspectRatio="none"><rect width="35" height="44" fill="#fcb3b9"/><path d="M5,44 C5.2,38 8,34.5 14,32 L14.2,27.5 C11.5,25.5 10.3,21.5 10.2,15.5 C10,10 13,7 18.3,7 C23.5,7 26.5,10 26.4,15.5 C26.3,21.5 25,25.5 22.6,27.5 L22.8,31.5 C27,33.5 29,37.5 29.2,44 Z" fill="#f4868b"/></svg></div><span class="t  b" style="left:39.15px;top:7.22px;font-size:13.5px;font-weight:bold;color:#4b4b4b;transform:scaleX(0.772)">Elea</span><span class="t " style="left:39.15px;top:23.99px;font-size:12.0px;font-weight:normal;color:#646464;transform:scaleX(0.78)">1754</span></div>
<div class="add" style="left:920.5px;top:122px;width:80px;height:47px"><svg class="ph" width="80" height="47" viewBox="0 0 80 47"><rect x="0.7" y="0.7" width="100" height="45.6" rx="3" fill="none" stroke="#8b919a" stroke-width="1.3" stroke-dasharray="4.2 2.8"/></svg><svg class="ph" style="left:1.8px;top:0.30px" width="35" height="44" viewBox="0 0 35 44" preserveAspectRatio="none"><path d="M1.9,44 L1.9,41 C2.2,37.5 6,35 10.7,32.5 L10.9,27.5 C9,25 8.1,22 8.1,18 L8.1,13 C8.3,8.8 11.5,6.6 15.5,6.6 C19.5,6.4 22.5,7.8 23.8,10.4 L23.8,19 C24.5,20 24.3,22 23.6,23 C23.3,26 22.3,28.5 20.2,30 L19.8,33 C24.5,35 28,37.5 28.4,41 L28.4,44 Z" fill="#5b9da1"/></svg><span class="plus" style="left:28.2px;top:10.9px">+</span><span class="t  b" style="left:39.60px;top:17.12px;font-size:13.5px;font-weight:bold;color:#d9dbde;transform:scaleX(0.772)">Add</span></div>
<div class="add" style="left:920.5px;top:191px;width:80px;height:47.5px"><svg class="ph" width="80" height="47.5" viewBox="0 0 80 47.5"><rect x="0.7" y="0.7" width="100" height="46.1" rx="3" fill="none" stroke="#8b919a" stroke-width="1.3" stroke-dasharray="4.2 2.8"/></svg><svg class="ph" style="left:1.8px;top:2.00px" width="35" height="44" viewBox="0 0 35 44" preserveAspectRatio="none"><path d="M5,44 C5.2,38 8,34.5 14,32 L14.2,27.5 C11.5,25.5 10.3,21.5 10.2,15.5 C10,10 13,7 18.3,7 C23.5,7 26.5,10 26.4,15.5 C26.3,21.5 25,25.5 22.6,27.5 L22.8,31.5 C27,33.5 29,37.5 29.2,44 Z" fill="#cf6a70"/></svg><span class="plus" style="left:28.2px;top:11.2px">+</span><span class="t  b" style="left:39.60px;top:17.37px;font-size:13.5px;font-weight:bold;color:#d9dbde;transform:scaleX(0.772)">Add</span></div>
<div class="add" style="left:920.5px;top:400.5px;width:80px;height:47.5px"><svg class="ph" width="80" height="47.5" viewBox="0 0 80 47.5"><rect x="0.7" y="0.7" width="100" height="46.1" rx="3" fill="none" stroke="#8b919a" stroke-width="1.3" stroke-dasharray="4.2 2.8"/></svg><svg class="ph" style="left:1.8px;top:0.80px" width="35" height="44" viewBox="0 0 35 44" preserveAspectRatio="none"><path d="M1.9,44 L1.9,41 C2.2,37.5 6,35 10.7,32.5 L10.9,27.5 C9,25 8.1,22 8.1,18 L8.1,13 C8.3,8.8 11.5,6.6 15.5,6.6 C19.5,6.4 22.5,7.8 23.8,10.4 L23.8,19 C24.5,20 24.3,22 23.6,23 C23.3,26 22.3,28.5 20.2,30 L19.8,33 C24.5,35 28,37.5 28.4,41 L28.4,44 Z" fill="#5b9da1"/></svg><span class="plus" style="left:28.2px;top:11.2px">+</span><span class="t  b" style="left:39.60px;top:17.37px;font-size:13.5px;font-weight:bold;color:#d9dbde;transform:scaleX(0.772)">Add</span></div>
<div class="add" style="left:920.5px;top:469.25px;width:80px;height:47.0px"><svg class="ph" width="80" height="47.0" viewBox="0 0 80 47.0"><rect x="0.7" y="0.7" width="100" height="45.6" rx="3" fill="none" stroke="#8b919a" stroke-width="1.3" stroke-dasharray="4.2 2.8"/></svg><svg class="ph" style="left:1.8px;top:1.50px" width="35" height="44" viewBox="0 0 35 44" preserveAspectRatio="none"><path d="M5,44 C5.2,38 8,34.5 14,32 L14.2,27.5 C11.5,25.5 10.3,21.5 10.2,15.5 C10,10 13,7 18.3,7 C23.5,7 26.5,10 26.4,15.5 C26.3,21.5 25,25.5 22.6,27.5 L22.8,31.5 C27,33.5 29,37.5 29.2,44 Z" fill="#cf6a70"/></svg><span class="plus" style="left:28.2px;top:10.9px">+</span><span class="t  b" style="left:39.60px;top:17.12px;font-size:13.5px;font-weight:bold;color:#d9dbde;transform:scaleX(0.772)">Add</span></div>
<svg class="ov" viewBox="0 0 1024 576"><defs>
<g id="bdg"><ellipse cx="-0.1" cy="0" rx="8.8" ry="11.3" fill="#1a89b5"/>
<path transform="translate(0,1.9) scale(0.9)" d="M-5.2,4.6 C-5,2.2 -3.8,1.3 -2.4,0.8 C-3.2,-0.2 -3.6,-1.6 -3.6,-2.9 C-3.6,-4.6 -2.7,-5.6 -1.5,-5.6 C-0.6,-5.6 0,-5 0.3,-4.2 C0.7,-5.2 1.4,-5.8 2.2,-5.8 C3.4,-5.8 4.1,-4.6 4.1,-3 C4.1,-1.7 3.7,-0.4 3,0.6 C4.6,1.2 5.4,2.2 5.4,4.6 Z" fill="#eaf7fc"/></g>
<g id="leaf"><path d="M-10.6,12.2 C-9.4,10.6 -8.4,9.4 -7,8" stroke="#8f9478" stroke-width="1" fill="none"/>
<path d="M7.9,-11.2 C8.6,-5 8.8,3 4.5,8.5 C2,11.5 -2.5,12.2 -5.5,10 C-8.8,7 -8.8,2 -6,-2.5 C-3,-7 3,-9.5 7.9,-11.2 Z" fill="#9ccd3d" stroke="#86b535" stroke-width="0.8"/>
<path d="M6.3,-8.5 C4,-3 0,4 -5,9" stroke="#aedb62" stroke-width="0.8" fill="none"/></g>
</defs>
<g id="btns"><g transform="translate(656.0,43.7)"><rect x="-8.4" y="-10.9" width="16.8" height="21.8" rx="2.2" fill="#3e434c"/><path d="M-4.4,-3.0 L-0.2,1.7 L-4.4,6.4" fill="none" stroke="#d6d8db" stroke-width="2.1"/></g><g transform="translate(656.0,73.7)"><rect x="-8.4" y="-10.9" width="16.8" height="21.8" rx="2.2" fill="#3e434c"/><path d="M-4.4,-3.0 L-0.2,1.7 L-4.4,6.4" fill="none" stroke="#d6d8db" stroke-width="2.1"/></g><g transform="translate(656.0,108.2)"><rect x="-8.4" y="-10.9" width="16.8" height="21.8" rx="2.2" fill="#3e434c"/><path d="M-4.4,-3.0 L-0.2,1.7 L-4.4,6.4" fill="none" stroke="#d6d8db" stroke-width="2.1"/></g><g transform="translate(656.0,141.95)"><rect x="-8.4" y="-10.9" width="16.8" height="21.8" rx="2.2" fill="#3e434c"/><path d="M-4.4,-3.0 L-0.2,1.7 L-4.4,6.4" fill="none" stroke="#d6d8db" stroke-width="2.1"/></g><g transform="translate(656.0,176.7)"><rect x="-8.4" y="-10.9" width="16.8" height="21.8" rx="2.2" fill="#3e434c"/><path d="M-4.4,-3.0 L-0.2,1.7 L-4.4,6.4" fill="none" stroke="#d6d8db" stroke-width="2.1"/></g><g transform="translate(656.0,218.45)"><rect x="-8.4" y="-10.9" width="16.8" height="21.8" rx="2.2" fill="#3e434c"/><path d="M-4.4,-3.0 L-0.2,1.7 L-4.4,6.4" fill="none" stroke="#d6d8db" stroke-width="2.1"/></g><g transform="translate(656.0,252.95)"><rect x="-8.4" y="-10.9" width="16.8" height="21.8" rx="2.2" fill="#3e434c"/><path d="M-0.6,-3.0 L-4.8,1.7 L-0.6,6.4" fill="none" stroke="#d6d8db" stroke-width="2.1"/></g><g transform="translate(656.0,286.7)"><rect x="-8.4" y="-10.9" width="16.8" height="21.8" rx="2.2" fill="#3e434c"/><path d="M-4.4,-3.0 L-0.2,1.7 L-4.4,6.4" fill="none" stroke="#d6d8db" stroke-width="2.1"/></g><g transform="translate(656.0,321.7)"><rect x="-8.4" y="-10.9" width="16.8" height="21.8" rx="2.2" fill="#3e434c"/><path d="M-4.4,-3.0 L-0.2,1.7 L-4.4,6.4" fill="none" stroke="#d6d8db" stroke-width="2.1"/></g><g transform="translate(656.0,351.7)"><rect x="-8.4" y="-10.9" width="16.8" height="21.8" rx="2.2" fill="#3e434c"/><path d="M-4.4,-3.0 L-0.2,1.7 L-4.4,6.4" fill="none" stroke="#d6d8db" stroke-width="2.1"/></g><g transform="translate(656.0,386.2)"><rect x="-8.4" y="-10.9" width="16.8" height="21.8" rx="2.2" fill="#3e434c"/><path d="M-4.4,-3.0 L-0.2,1.7 L-4.4,6.4" fill="none" stroke="#d6d8db" stroke-width="2.1"/></g><g transform="translate(656.0,419.95)"><rect x="-8.4" y="-10.9" width="16.8" height="21.8" rx="2.2" fill="#3e434c"/><path d="M-4.4,-3.0 L-0.2,1.7 L-4.4,6.4" fill="none" stroke="#d6d8db" stroke-width="2.1"/></g><g transform="translate(656.0,454.95)"><rect x="-8.4" y="-10.9" width="16.8" height="21.8" rx="2.2" fill="#3e434c"/><path d="M-4.4,-3.0 L-0.2,1.7 L-4.4,6.4" fill="none" stroke="#d6d8db" stroke-width="2.1"/></g></g>
<g id="badges"><use href="#bdg" x="208" y="31.5"/><use href="#bdg" x="208" y="309.3"/><use href="#bdg" x="243" y="98"/><use href="#bdg" x="242.9" y="242.2"/><use href="#bdg" x="242.9" y="375.5"/><use href="#bdg" x="439.8" y="63.55"/><use href="#bdg" x="439.8" y="131.8"/><use href="#bdg" x="439.8" y="276.8"/><use href="#bdg" x="439.8" y="410.3"/><use href="#bdg" x="439.8" y="208.3"/><use href="#bdg" x="410.7" y="340.2"/><use href="#leaf" x="439.5" y="340.8"/><use href="#bdg" x="607.6" y="27.0"/><use href="#leaf" x="636" y="26.3"/><use href="#bdg" x="607.6" y="57.0"/><use href="#leaf" x="636" y="56.3"/><use href="#bdg" x="607.6" y="91.5"/><use href="#leaf" x="636" y="90.8"/><use href="#bdg" x="607.6" y="125.25"/><use href="#leaf" x="636" y="124.55"/><use href="#bdg" x="607.6" y="160.0"/><use href="#leaf" x="636" y="159.3"/><use href="#bdg" x="636.3" y="201.65"/><use href="#bdg" x="636.3" y="236.15"/><use href="#bdg" x="636.3" y="269.9"/><use href="#bdg" x="636.3" y="304.9"/><use href="#bdg" x="607.6" y="335.0"/><use href="#leaf" x="636" y="334.3"/><use href="#bdg" x="607.6" y="369.5"/><use href="#leaf" x="636" y="368.8"/><use href="#bdg" x="636.3" y="403.15"/><use href="#bdg" x="636.3" y="438.15"/><use href="#bdg" x="867.6" y="86.3"/><use href="#bdg" x="838.8" y="364.3"/><use href="#leaf" x="866.3" y="364.5"/><use href="#bdg" x="874.5" y="152.7"/><use href="#leaf" x="902" y="152.7"/><use href="#bdg" x="902.3" y="297.6"/><use href="#bdg" x="903" y="431.2"/></g>
</svg>
</div></div>
<svg class="ov" id="anno" viewBox="0 0 1024 576">
<ellipse cx="135.6" cy="337.7" rx="118.5" ry="39.1" fill="none" stroke="#ffff14" stroke-width="5.4"/>
<polygon points="327,107.5 441.2,190.8 454.9,176 463.7,234 404,243.6 416.4,227 301.8,139.5" fill="#ffff00" stroke="#9a8e00" stroke-width="1.2" stroke-linejoin="miter"/><polygon points="840.4,117.4 880,111.1 872.4,122.9 909.2,150.7 892.3,172.9 855,146.5 846.4,157" fill="#ffff00" stroke="#9a8e00" stroke-width="1.2" stroke-linejoin="miter"/><polygon points="883.2,317.8 916.3,313.3 910.3,323.3 941.5,347.8 926.2,366.1 895,342.1 886.8,351" fill="#ffff00" stroke="#9a8e00" stroke-width="1.2" stroke-linejoin="miter"/><polygon points="883.6,445.7 915.8,433.3 911,445.2 947.8,461.7 936.8,482.5 901.3,467.2 895.7,477.7" fill="#ffff00" stroke="#9a8e00" stroke-width="1.2" stroke-linejoin="miter"/>
</svg>
</div>
</body>
</html>
